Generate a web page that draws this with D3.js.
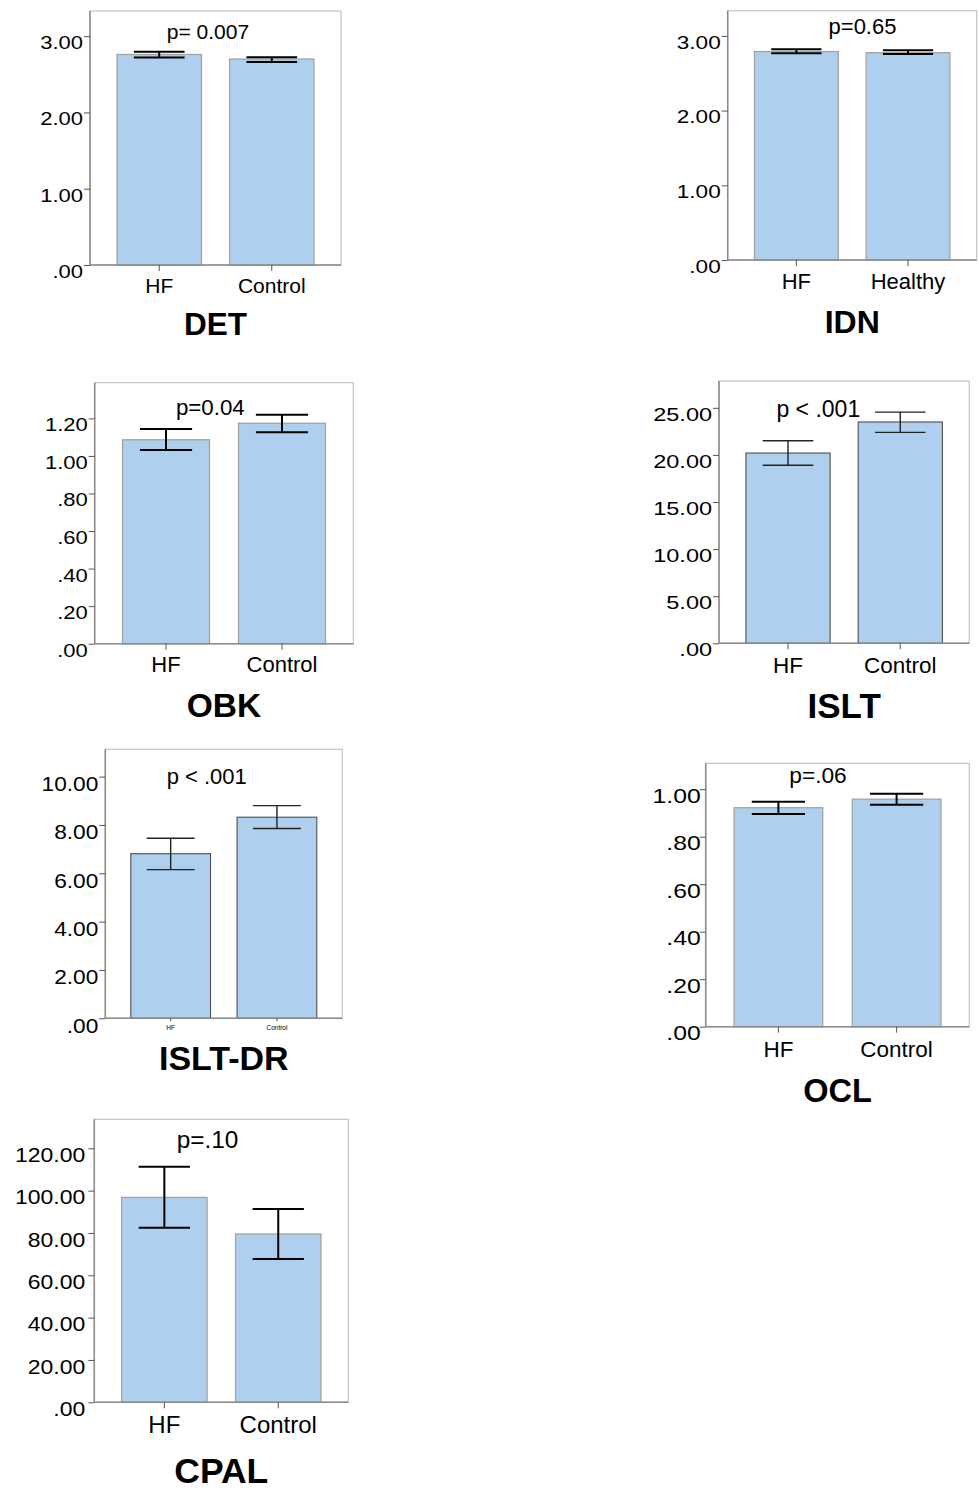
<!DOCTYPE html>
<html>
<head>
<meta charset="utf-8">
<script src="https://cdn.jsdelivr.net/npm/d3@7"></script>
<style>
  body { margin: 0; background: #fff; }
  text { font-family: 'Liberation Sans', Arial, sans-serif; fill: #000; }
</style>
</head>
<body>
<svg id="chart" width="979" height="1490"></svg>
<script>
// values
var titles = ['DET', 'IDN', 'OBK', 'ISLT', 'ISLT-DR', 'OCL', 'CPAL'];
var groups = [
  ['HF', 'Control'], ['HF', 'Healthy'], ['HF', 'Control'], ['HF', 'Control'],
  ['HF', 'Control'], ['HF', 'Control'], ['HF', 'Control']
];
var means = [[2.76, 2.70], [2.79, 2.775], [1.086, 1.174], [20.2, 23.5], [6.81, 8.32], [0.922, 0.958], [96.8, 79.5]];
var lows  = [[2.72, 2.66], [2.767, 2.758], [1.031, 1.126], [18.9, 22.4], [6.15, 7.85], [0.896, 0.935], [82.5, 67.7]];
var highs = [[2.796, 2.723], [2.82, 2.807], [1.143, 1.219], [21.5, 24.55], [7.45, 8.80], [0.947, 0.981], [111.3, 91.3]];
var pLabels = ['p= 0.007', 'p=0.65', 'p=0.04', 'p < .001', 'p < .001', 'p=.06', 'p=.10'];
var yTicks = [
  [0, 1, 2, 3], [0, 1, 2, 3], [0, 0.2, 0.4, 0.6, 0.8, 1.0, 1.2], [0, 5, 10, 15, 20, 25],
  [0, 2, 4, 6, 8, 10], [0, 0.2, 0.4, 0.6, 0.8, 1.0], [0, 20, 40, 60, 80, 100, 120]
];
var yMax = [3.33, 3.337, 1.39, 27.85, 11.13, 1.109, 133.7];

// where each panel sits, and its text sizes
var layout = [
  {x0: 90,    y0: 11,     x1: 341,   y1: 265,    px: 208,   py: 39,   tf: 18.8, sx: 1.17, gap: 7,  xf: 21,  xd: 28, tt: 31.5, td: 70,  pf: 21,   thin: false},
  {x0: 727.7, y0: 10.7,   x1: 976.7, y1: 260,    px: 862.5, py: 33.5, tf: 18.8, sx: 1.2,  gap: 7,  xf: 22,  xd: 29, tt: 32,   td: 73,  pf: 22,   thin: false},
  {x0: 94.7,  y0: 382.7,  x1: 353.3, y1: 643.7,  px: 210.3, py: 415,  tf: 18.8, sx: 1.17, gap: 7,  xf: 22,  xd: 28, tt: 33.5, td: 73,  pf: 22.3, thin: false},
  {x0: 719,   y0: 381,    x1: 969.3, y1: 643.3,  px: 818.3, py: 416.5,tf: 18.8, sx: 1.25, gap: 7,  xf: 22.5,xd: 30, tt: 35,   td: 75,  pf: 23,   thin: true},
  {x0: 105.3, y0: 749.3,  x1: 342.3, y1: 1018.3, px: 206.7, py: 784,  tf: 21,   sx: 1.08, gap: 7,  xf: 6.5, xd: 12, tt: 34,   td: 52,  pf: 22,   thin: true},
  {x0: 705.7, y0: 763.3,  x1: 969.3, y1: 1026.7, px: 818,   py: 783,  tf: 19.5, sx: 1.27, gap: 5,  xf: 22.5,xd: 30, tt: 32.5, td: 75,  pf: 22.7, thin: false},
  {x0: 94.3,  y0: 1119.3, x1: 348.3, y1: 1402.3, px: 207.5, py: 1148, tf: 19.8, sx: 1.16, gap: 9,  xf: 24,  xd: 31, tt: 35.5, td: 81,  pf: 24.4, thin: false}
];

var barFill = '#aecfed';
var fmt = function(v) { return d3.format('.2f')(v).replace(/^0\./, '.'); };

var svg = d3.select('#chart');

titles.forEach(function(title, i) {
  var L = layout[i];
  var g = svg.append('g').attr('class', 'panel');
  var data = groups[i].map(function(name, j) {
    return { name: name, mean: means[i][j], lo: lows[i][j], hi: highs[i][j] };
  });

  var x = d3.scaleBand()
    .domain(groups[i])
    .range([L.x0, L.x1])
    .paddingInner(0.25)
    .paddingOuter(0.24);
  var y = d3.scaleLinear()
    .domain([0, yMax[i]])
    .range([L.y1, L.y0]);

  // light frame (top and right)
  g.append('rect')
    .attr('x', L.x0).attr('y', L.y0)
    .attr('width', L.x1 - L.x0).attr('height', L.y1 - L.y0)
    .attr('fill', 'none')
    .attr('stroke', '#c4c4c4')
    .attr('stroke-width', 1.2);

  // bars
  g.selectAll('.bar')
    .data(data)
    .enter()
    .append('rect')
    .attr('class', 'bar')
    .attr('x', function(d) { return x(d.name); })
    .attr('y', function(d) { return y(d.mean); })
    .attr('width', x.bandwidth())
    .attr('height', function(d) { return y(0) - y(d.mean); })
    .attr('fill', barFill)
    .attr('stroke', L.thin ? '#4d4d4d' : '#a3a3a3')
    .attr('stroke-width', L.thin ? 1.1 : 1.3);

  // error bars
  var cap = x.bandwidth() * 0.6;
  var ew = L.thin ? 1.4 : 2;
  var eb = g.selectAll('.err')
    .data(data)
    .enter()
    .append('g')
    .attr('class', 'err')
    .attr('stroke', L.thin ? '#222' : '#000')
    .attr('stroke-width', ew);
  eb.append('line')
    .attr('x1', function(d) { return x(d.name) + x.bandwidth() / 2; })
    .attr('x2', function(d) { return x(d.name) + x.bandwidth() / 2; })
    .attr('y1', function(d) { return y(d.lo); })
    .attr('y2', function(d) { return y(d.hi); });
  ['lo', 'hi'].forEach(function(k) {
    eb.append('line')
      .attr('x1', function(d) { return x(d.name) + x.bandwidth() / 2 - cap / 2; })
      .attr('x2', function(d) { return x(d.name) + x.bandwidth() / 2 + cap / 2; })
      .attr('y1', function(d) { return y(d[k]); })
      .attr('y2', function(d) { return y(d[k]); });
  });

  // y axis
  var yAxis = g.append('g')
    .attr('transform', 'translate(' + L.x0 + ',0)')
    .call(d3.axisLeft(y).tickValues(yTicks[i]).tickFormat(fmt).tickSize(6).tickPadding(0).tickSizeOuter(0));
  yAxis.select('.domain').attr('stroke', '#8a8a8a').attr('stroke-width', 1.5)
    .attr('d', 'M0,' + L.y0 + 'V' + L.y1);
  yAxis.selectAll('.tick line').attr('stroke', '#555');
  yAxis.selectAll('.tick text')
    .attr('font-size', L.tf)
    .attr('font-family', null)
    .attr('x', null).attr('dy', null)
    .attr('transform', 'translate(' + (-L.gap) + ',' + (L.tf * 0.66) + ') scale(' + L.sx + ',1)');

  // x axis
  var xAxis = g.append('g')
    .attr('transform', 'translate(0,' + L.y1 + ')')
    .call(d3.axisBottom(x).tickSize(i === 4 ? 3 : 6).tickPadding(0).tickSizeOuter(0));
  xAxis.select('.domain').attr('stroke', '#8a8a8a').attr('stroke-width', 1.5)
    .attr('d', 'M' + L.x0 + ',0H' + L.x1);
  xAxis.selectAll('.tick line').attr('stroke', '#555');
  xAxis.selectAll('.tick text')
    .attr('font-size', L.xf)
    .attr('font-family', null)
    .attr('y', L.xd).attr('dy', null);

  // p value
  g.append('text')
    .attr('x', L.px).attr('y', L.py)
    .attr('text-anchor', 'middle')
    .attr('font-size', L.pf)
    .text(pLabels[i]);

  // panel title
  g.append('text')
    .attr('x', (L.x0 + L.x1) / 2).attr('y', L.y1 + L.td)
    .attr('text-anchor', 'middle')
    .attr('font-size', L.tt)
    .attr('font-weight', 'bold')
    .text(title);
});
</script>
</body>
</html>
